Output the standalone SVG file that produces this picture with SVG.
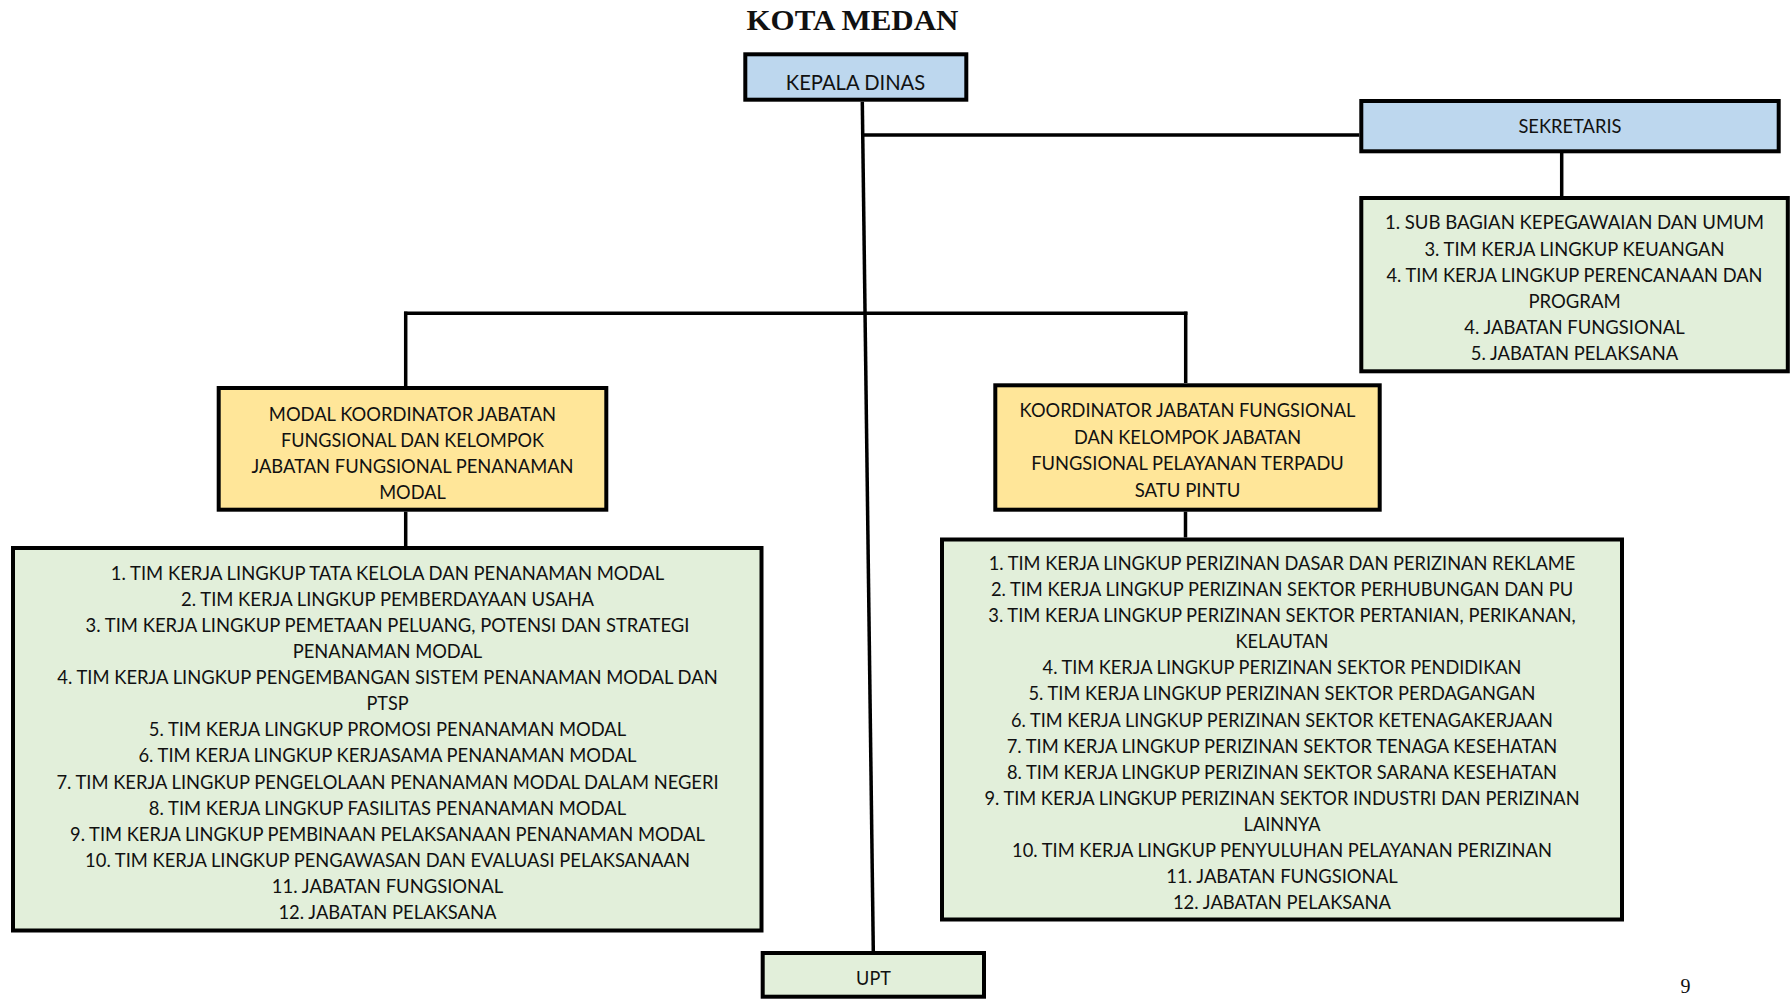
<svg xmlns="http://www.w3.org/2000/svg" width="1791" height="999" viewBox="0 0 1791 999">
<style>
.box{stroke:#000;stroke-width:4}
.blue{fill:#BDD7EE}
.yel{fill:#FFE699}
.grn{fill:#E2EFDA}
.t{font-family:Lato,"Open Sans","Liberation Sans",sans-serif;font-size:19.2px;fill:#111;text-anchor:middle}
.conn line{stroke:#000;stroke-width:3.5;stroke-linecap:butt}
</style>
<rect width="1791" height="999" fill="#fff"/>
<text x="852.5" y="30" style="font-family:'Liberation Serif',serif;font-weight:bold;font-size:30px;text-anchor:middle;fill:#111" textLength="212" lengthAdjust="spacingAndGlyphs">KOTA MEDAN</text>
<g class="conn" id="connectors">
<line x1="862.3" y1="101.7" x2="873.3" y2="951"/>
<line x1="862.3" y1="135" x2="1359.3" y2="135"/>
<line x1="1561.7" y1="153" x2="1561.7" y2="196"/>
<line x1="404" y1="313.3" x2="1187.4" y2="313.3"/>
<line x1="405.7" y1="311.6" x2="405.7" y2="386"/>
<line x1="1185.7" y1="311.6" x2="1185.7" y2="383"/>
<line x1="405.7" y1="511.7" x2="405.7" y2="546"/>
<line x1="1185.5" y1="511.7" x2="1185.5" y2="537.5"/>
</g>
<g id="kepala-dinas">
<rect class="box blue" x="745.3" y="54.3" width="221" height="45.4"/>
<text class="t" x="855.5" y="90" style="font-size:21.3px" textLength="139.4" lengthAdjust="spacingAndGlyphs">KEPALA DINAS</text>
</g>
<g id="sekretaris">
<rect class="box blue" x="1361.3" y="101" width="417.4" height="50.3"/>
<text class="t" x="1570" y="133.4" style="font-size:20px" textLength="103.1" lengthAdjust="spacingAndGlyphs">SEKRETARIS</text>
</g>
<g id="sekretaris-list">
<rect class="box grn" x="1361.3" y="198" width="426.5" height="173.3"/>
<text class="t" x="1574.5" y="229.3" textLength="379.2" lengthAdjust="spacingAndGlyphs">1. SUB BAGIAN KEPEGAWAIAN DAN UMUM</text>
<text class="t" x="1574.5" y="255.5" textLength="300.1" lengthAdjust="spacingAndGlyphs">3. TIM KERJA LINGKUP KEUANGAN</text>
<text class="t" x="1574.5" y="281.7" textLength="376.1" lengthAdjust="spacingAndGlyphs">4. TIM KERJA LINGKUP PERENCANAAN DAN</text>
<text class="t" x="1574.5" y="307.9" textLength="92.2" lengthAdjust="spacingAndGlyphs">PROGRAM</text>
<text class="t" x="1574.5" y="334.1" textLength="220.5" lengthAdjust="spacingAndGlyphs">4. JABATAN FUNGSIONAL</text>
<text class="t" x="1574.5" y="360.3" textLength="207.3" lengthAdjust="spacingAndGlyphs">5. JABATAN PELAKSANA</text>
</g>
<g id="koordinator-penanaman-modal">
<rect class="box yel" x="218.7" y="388" width="387.6" height="121.7"/>
<text class="t" x="412.5" y="421" textLength="287.3" lengthAdjust="spacingAndGlyphs">MODAL KOORDINATOR JABATAN</text>
<text class="t" x="412.5" y="447" textLength="262.9" lengthAdjust="spacingAndGlyphs">FUNGSIONAL DAN KELOMPOK</text>
<text class="t" x="412.5" y="472.8" textLength="322.2" lengthAdjust="spacingAndGlyphs">JABATAN FUNGSIONAL PENANAMAN</text>
<text class="t" x="412.5" y="498.7" textLength="66.7" lengthAdjust="spacingAndGlyphs">MODAL</text>
</g>
<g id="koordinator-ptsp">
<rect class="box yel" x="995.3" y="385.3" width="384.4" height="124.4"/>
<text class="t" x="1187.5" y="417" textLength="335.8" lengthAdjust="spacingAndGlyphs">KOORDINATOR JABATAN FUNGSIONAL</text>
<text class="t" x="1187.5" y="443.7" textLength="227.2" lengthAdjust="spacingAndGlyphs">DAN KELOMPOK JABATAN</text>
<text class="t" x="1187.5" y="470" textLength="312.7" lengthAdjust="spacingAndGlyphs">FUNGSIONAL PELAYANAN TERPADU</text>
<text class="t" x="1187.5" y="497" textLength="105.6" lengthAdjust="spacingAndGlyphs">SATU PINTU</text>
</g>
<g id="penanaman-modal-list">
<rect class="box grn" x="13" y="548" width="748.5" height="382.5"/>
<text class="t" x="387.5" y="579.7" textLength="553.3" lengthAdjust="spacingAndGlyphs">1. TIM KERJA LINGKUP TATA KELOLA DAN PENANAMAN MODAL</text>
<text class="t" x="387.5" y="605.8" textLength="412.9" lengthAdjust="spacingAndGlyphs">2. TIM KERJA LINGKUP PEMBERDAYAAN USAHA</text>
<text class="t" x="387.5" y="631.9" textLength="603.8" lengthAdjust="spacingAndGlyphs">3. TIM KERJA LINGKUP PEMETAAN PELUANG, POTENSI DAN STRATEGI</text>
<text class="t" x="387.5" y="658" textLength="189.4" lengthAdjust="spacingAndGlyphs">PENANAMAN MODAL</text>
<text class="t" x="387.5" y="684.1" textLength="660.4" lengthAdjust="spacingAndGlyphs">4. TIM KERJA LINGKUP PENGEMBANGAN SISTEM PENANAMAN MODAL DAN</text>
<text class="t" x="387.5" y="710.2" textLength="42.2" lengthAdjust="spacingAndGlyphs">PTSP</text>
<text class="t" x="387.5" y="736.3" textLength="477.4" lengthAdjust="spacingAndGlyphs">5. TIM KERJA LINGKUP PROMOSI PENANAMAN MODAL</text>
<text class="t" x="387.5" y="762.4" textLength="498.1" lengthAdjust="spacingAndGlyphs">6. TIM KERJA LINGKUP KERJASAMA PENANAMAN MODAL</text>
<text class="t" x="387.5" y="788.5" textLength="662.2" lengthAdjust="spacingAndGlyphs">7. TIM KERJA LINGKUP PENGELOLAAN PENANAMAN MODAL DALAM NEGERI</text>
<text class="t" x="387.5" y="814.6" textLength="477.3" lengthAdjust="spacingAndGlyphs">8. TIM KERJA LINGKUP FASILITAS PENANAMAN MODAL</text>
<text class="t" x="387.5" y="840.7" textLength="634.9" lengthAdjust="spacingAndGlyphs">9. TIM KERJA LINGKUP PEMBINAAN PELAKSANAAN PENANAMAN MODAL</text>
<text class="t" x="387.5" y="866.8" textLength="604.8" lengthAdjust="spacingAndGlyphs">10. TIM KERJA LINGKUP PENGAWASAN DAN EVALUASI PELAKSANAAN</text>
<text class="t" x="387.5" y="892.9" textLength="231.3" lengthAdjust="spacingAndGlyphs">11. JABATAN FUNGSIONAL</text>
<text class="t" x="387.5" y="919" textLength="218.1" lengthAdjust="spacingAndGlyphs">12. JABATAN PELAKSANA</text>
</g>
<g id="ptsp-list">
<rect class="box grn" x="942" y="539.5" width="680" height="380"/>
<text class="t" x="1282" y="569.9" textLength="586.6" lengthAdjust="spacingAndGlyphs">1. TIM KERJA LINGKUP PERIZINAN DASAR DAN PERIZINAN REKLAME</text>
<text class="t" x="1282" y="596" textLength="582.2" lengthAdjust="spacingAndGlyphs">2. TIM KERJA LINGKUP PERIZINAN SEKTOR PERHUBUNGAN DAN PU</text>
<text class="t" x="1282" y="622.1" textLength="587.5" lengthAdjust="spacingAndGlyphs">3. TIM KERJA LINGKUP PERIZINAN SEKTOR PERTANIAN, PERIKANAN,</text>
<text class="t" x="1282" y="648.2" textLength="93.1" lengthAdjust="spacingAndGlyphs">KELAUTAN</text>
<text class="t" x="1282" y="674.3" textLength="478.8" lengthAdjust="spacingAndGlyphs">4. TIM KERJA LINGKUP PERIZINAN SEKTOR PENDIDIKAN</text>
<text class="t" x="1282" y="700.4" textLength="507" lengthAdjust="spacingAndGlyphs">5. TIM KERJA LINGKUP PERIZINAN SEKTOR PERDAGANGAN</text>
<text class="t" x="1282" y="726.5" textLength="541.9" lengthAdjust="spacingAndGlyphs">6. TIM KERJA LINGKUP PERIZINAN SEKTOR KETENAGAKERJAAN</text>
<text class="t" x="1282" y="752.6" textLength="550.6" lengthAdjust="spacingAndGlyphs">7. TIM KERJA LINGKUP PERIZINAN SEKTOR TENAGA KESEHATAN</text>
<text class="t" x="1282" y="778.7" textLength="550.1" lengthAdjust="spacingAndGlyphs">8. TIM KERJA LINGKUP PERIZINAN SEKTOR SARANA KESEHATAN</text>
<text class="t" x="1282" y="804.8" textLength="595.1" lengthAdjust="spacingAndGlyphs">9. TIM KERJA LINGKUP PERIZINAN SEKTOR INDUSTRI DAN PERIZINAN</text>
<text class="t" x="1282" y="830.9" textLength="76.9" lengthAdjust="spacingAndGlyphs">LAINNYA</text>
<text class="t" x="1282" y="857" textLength="539.9" lengthAdjust="spacingAndGlyphs">10. TIM KERJA LINGKUP PENYULUHAN PELAYANAN PERIZINAN</text>
<text class="t" x="1282" y="883.1" textLength="231.3" lengthAdjust="spacingAndGlyphs">11. JABATAN FUNGSIONAL</text>
<text class="t" x="1282" y="909.2" textLength="218.1" lengthAdjust="spacingAndGlyphs">12. JABATAN PELAKSANA</text>
</g>
<g id="upt">
<rect class="box grn" x="762.7" y="953" width="221.3" height="43.7"/>
<text class="t" x="873.5" y="985" style="font-size:19.5px" textLength="34.8" lengthAdjust="spacingAndGlyphs">UPT</text>
</g>
<text x="1685.5" y="993" style="font-family:'Liberation Serif',serif;font-size:20px;text-anchor:middle;fill:#111">9</text>
</svg>
